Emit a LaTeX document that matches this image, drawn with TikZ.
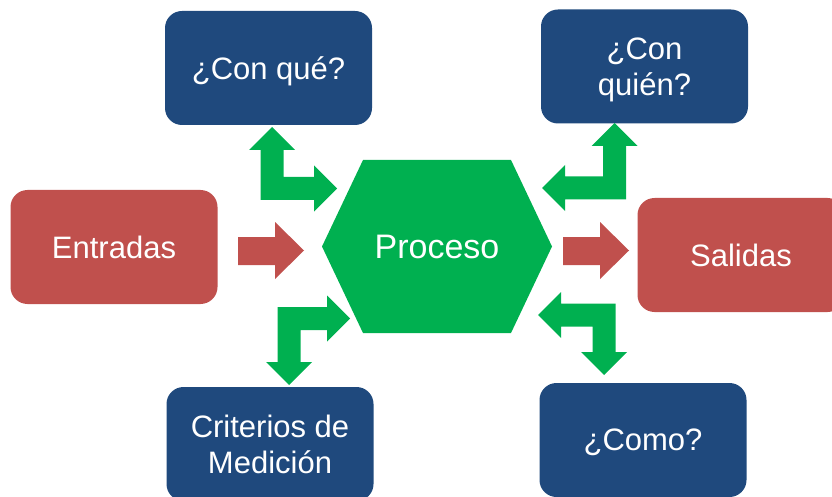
\documentclass[tikz,border=0pt]{standalone}
\usepackage{fontspec}
\setmainfont{Liberation Sans}
\definecolor{boxblue}{HTML}{1F497D}
\definecolor{boxred}{HTML}{C0504D}
\definecolor{procgreen}{HTML}{00B050}
\tikzset{
  box/.style={rounded corners=17pt, minimum width=207pt, minimum height=114pt,
    text=white, align=center, inner sep=0pt,
    font=\fontsize{31}{36}\selectfont},
  bluebox/.style={box, fill=boxblue},
  redbox/.style={box, fill=boxred},
  greenarrow/.style={fill=procgreen},
  redarrow/.style={fill=boxred},
}
\begin{document}
\begin{tikzpicture}[x=1pt,y=-1pt]
\clip (0,0) rectangle (832,497);
\useasboundingbox (0,0) rectangle (832,497);

% hexagon
\fill[procgreen] (322,246.5) -- (363,160) -- (511,160) -- (552,246.5) -- (511,333) -- (363,333) -- cycle;
\node[text=white, font=\fontsize{34}{40}\selectfont] (proc) at (437,246.5) {Proceso};

% boxes
\node[bluebox, text depth=0pt] (conque) at (268.5,68) {¿Con qué?};
\node[bluebox, text depth=0pt] (conquien) at (644.5,66.5) {¿Con\\quién?};
\node[redbox] (entradas) at (114,247) {Entradas};
\node[redbox] (salidas) at (741,255) {Salidas};
\node[bluebox] (criterios) at (270,444) {Criterios de\\Medición};
\node[bluebox, text depth=0pt] (como) at (643,440) {¿Como?};

% red arrows
\fill[redarrow] (238,237) -- (275,237) -- (275,222) -- (304,250.5) -- (275,279) -- (275,265) -- (238,265) -- cycle;
\fill[redarrow] (563,237) -- (600,237) -- (600,222) -- (629,250.5) -- (600,279) -- (600,265) -- (563,265) -- cycle;

% green bent double arrows
\fill[greenarrow] (272,127) -- (295,150) -- (283.5,150) -- (283.5,177) -- (314,177) -- (314,165.5) -- (337,188.5) -- (314,211.5) -- (314,200) -- (260.5,200) -- (260.5,150) -- (249,150) -- cycle;
\fill[greenarrow] (614.5,123) -- (637.5,146) -- (626,146) -- (626,199.5) -- (565,199.5) -- (565,211) -- (542,188) -- (565,165) -- (565,176.5) -- (603,176.5) -- (603,146) -- (591.5,146) -- cycle;
\fill[greenarrow] (289,385) -- (312,362) -- (300.5,362) -- (300.5,330) -- (327,330) -- (327,341.5) -- (350,318.5) -- (327,295.5) -- (327,307) -- (277.5,307) -- (277.5,362) -- (266,362) -- cycle;
\fill[greenarrow] (604,375) -- (627,352) -- (615.5,352) -- (615.5,303.5) -- (561,303.5) -- (561,292) -- (538,315) -- (561,338) -- (561,326.5) -- (592.5,326.5) -- (592.5,352) -- (581,352) -- cycle;
\end{tikzpicture}
\end{document}
